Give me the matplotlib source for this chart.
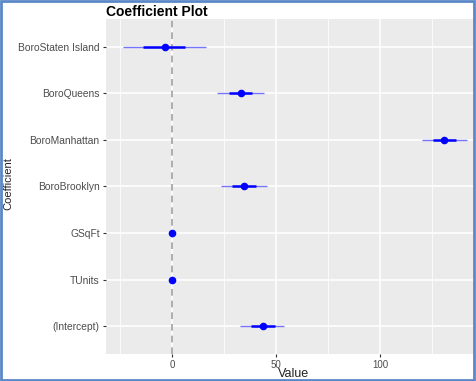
import matplotlib.pyplot as plt
from matplotlib.patches import Rectangle

plt.rcParams['font.family'] = ['Liberation Sans', 'DejaVu Sans']

# coefficients, bottom to top
coefs = ['(Intercept)', 'TUnits', 'GSqFt', 'BoroBrooklyn', 'BoroManhattan',
         'BoroQueens', 'BoroStaten Island']
values = [43.8, 0.1, 0.1, 34.6, 130.8, 33.2, -3.4]
outer_low = [32.7, -0.5, -0.5, 23.6, 120.2, 21.6, -23.6]
outer_high = [53.8, 0.7, 0.7, 45.7, 141.8, 44.2, 16.3]
inner_low = [38.0, -0.2, -0.2, 29.0, 125.5, 27.4, -14.0]
inner_high = [49.5, 0.4, 0.4, 40.4, 136.5, 38.5, 6.3]

fig = plt.figure(figsize=(4.76, 3.81), dpi=100)
ax = fig.add_axes([106 / 476, 27 / 381, 367 / 476, 335 / 381])

ax.set_facecolor('#EBEBEB')
for s in ax.spines.values():
    s.set_visible(False)

ypos = list(range(1, len(coefs) + 1))
ax.set_xlim(-31.7, 144.7)
ax.set_ylim(0.4, len(coefs) + 0.6)

ax.set_xticks([0, 50, 100])
ax.set_xticks([-25, 25, 75, 125], minor=True)
ax.set_yticks(ypos)
ax.set_yticklabels(coefs)
ax.grid(True, which='major', color='white', linewidth=1.1)
ax.grid(True, which='minor', axis='x', color='white', linewidth=0.55)
ax.set_axisbelow(True)
ax.tick_params(which='major', length=2.5, width=0.8, color='#333333',
               labelsize=7.4, labelcolor='#4D4D4D', pad=2)
ax.tick_params(axis='x', which='major', pad=1.5, labelsize=7)
ax.tick_params(which='minor', length=0)

ax.axvline(0, color='#A0A0A0', linestyle=(0, (4, 3)), linewidth=1.2, zorder=1)

ax.hlines(ypos, outer_low, outer_high, color='#7575FF', linewidth=1.0, zorder=2)
ax.hlines(ypos, inner_low, inner_high, color='blue', linewidth=1.8, zorder=3)
ax.scatter(values, ypos, color='blue', s=20, zorder=4)

ax.set_xlabel('Value', fontsize=9, color='#222222')
ax.xaxis.set_label_coords(0.512, -0.042)
ax.set_ylabel('Coefficient', fontsize=8, color='#222222')
ax.yaxis.set_label_coords(-0.252, 0.51)
ax.set_title('Coefficient Plot', fontsize=10, fontweight='bold', loc='left', pad=2)

fig.patches.append(Rectangle((0.002, 0.003), 0.994, 0.994, transform=fig.transFigure,
                             fill=False, edgecolor='#5B87C8', linewidth=2))

fig.savefig('out.png', dpi=100)
